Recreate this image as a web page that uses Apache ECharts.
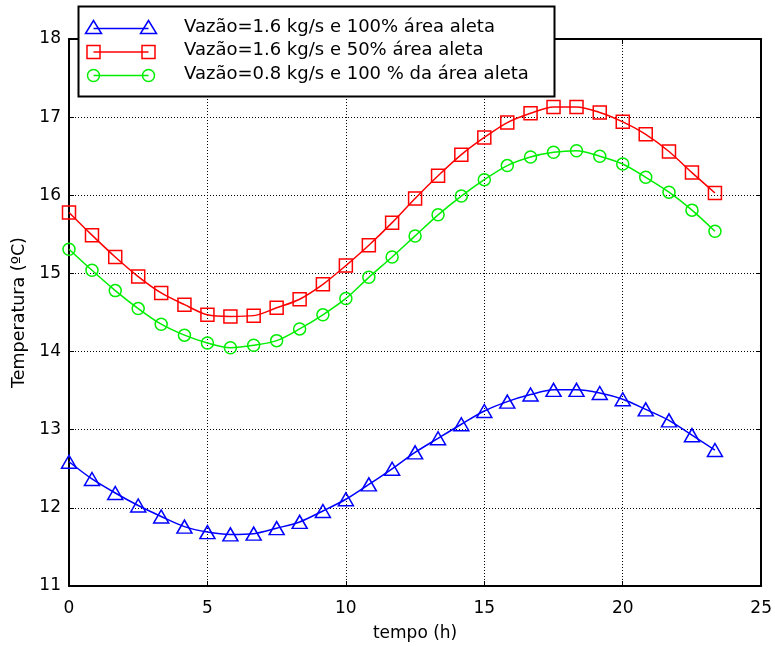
<!DOCTYPE html>
<html>
<head>
<meta charset="utf-8">
<script src="https://cdn.jsdelivr.net/npm/echarts@6/dist/echarts.min.js"></script>
<style>
html,body{margin:0;padding:0;background:#fff;}
#chart{width:775px;height:647px;}
</style>
</head>
<body>
<div id="chart"></div>
<script>
const tempo = [0, 0.83, 1.67, 2.5, 3.33, 4.17, 5, 5.83, 6.67, 7.5, 8.33, 9.17, 10, 10.83, 11.67, 12.5, 13.33, 14.17, 15, 15.83, 16.67, 17.5, 18.33, 19.17, 20, 20.83, 21.67, 22.5, 23.33];
const serieA = [12.59, 12.37, 12.19, 12.03, 11.89, 11.76, 11.69, 11.66, 11.67, 11.74, 11.82, 11.96, 12.11, 12.30, 12.50, 12.71, 12.89, 13.07, 13.24, 13.36, 13.45, 13.51, 13.51, 13.47, 13.39, 13.26, 13.12, 12.93, 12.74];
const serieB = [15.78, 15.49, 15.21, 14.96, 14.75, 14.60, 14.47, 14.45, 14.46, 14.56, 14.67, 14.86, 15.10, 15.36, 15.65, 15.96, 16.25, 16.52, 16.74, 16.93, 17.05, 17.13, 17.13, 17.06, 16.94, 16.78, 16.56, 16.29, 16.03];
const serieC = [15.31, 15.04, 14.78, 14.55, 14.35, 14.21, 14.11, 14.05, 14.08, 14.14, 14.29, 14.47, 14.68, 14.95, 15.21, 15.48, 15.75, 15.99, 16.20, 16.38, 16.49, 16.55, 16.57, 16.50, 16.40, 16.23, 16.04, 15.81, 15.54];
const nomes = ['Vazão=1.6 kg/s e 100% área aleta', 'Vazão=1.6 kg/s e 50% área aleta', 'Vazão=0.8 kg/s e 100 % da área aleta'];
const cores = ['#0000ff', '#ff0000', '#00ee00'];
const simbolos = ['triangle', 'rect', 'circle'];
const tamanhos = [[15, 13], 13, 12];

const FONT = '"DejaVu Sans", Verdana, sans-serif';
const chart = echarts.init(document.getElementById('chart'), null, {renderer: 'canvas'});

function pairs(ys) { return tempo.map((t, i) => [t, ys[i]]); }
const valores = [serieA, serieB, serieC];

const series = valores.map((ys, k) => ({
  name: nomes[k],
  type: 'line',
  data: pairs(ys),
  smooth: 0.3,
  symbol: simbolos[k],
  symbolSize: tamanhos[k],
  showAllSymbol: true,
  lineStyle: {color: cores[k], width: 1.5},
  itemStyle: {color: 'rgba(255,255,255,0)', borderColor: cores[k], borderWidth: 1.5},
  emphasis: {disabled: true},
  z: 2
}));

// legend icons (line with marker at both ends)
const rowY = [28.5, 52, 75.5];
const iconGraphics = [];
rowY.forEach((cy, k) => {
  iconGraphics.push({type: 'line', z: 10, shape: {x1: 93.5, y1: cy, x2: 148.5, y2: cy}, style: {stroke: cores[k], lineWidth: 1.5}});
  [93.5, 148.5].forEach(cx => {
    if (k === 0) {
      iconGraphics.push({type: 'polygon', z: 10, shape: {points: [[cx, cy - 8], [cx - 8, cy + 5], [cx + 8, cy + 5]]}, style: {fill: 'none', stroke: cores[k], lineWidth: 1.5}});
    } else if (k === 1) {
      iconGraphics.push({type: 'rect', z: 10, shape: {x: cx - 6.5, y: cy - 6.5, width: 13, height: 13}, style: {fill: 'none', stroke: cores[k], lineWidth: 1.5}});
    } else {
      iconGraphics.push({type: 'circle', z: 10, shape: {cx: cx, cy: cy, r: 6}, style: {fill: 'none', stroke: cores[k], lineWidth: 1.5}});
    }
  });
});

const axisCommon = {
  type: 'value',
  axisLine: {show: true, onZero: false, lineStyle: {color: '#000', width: 2}},
  axisTick: {show: true, inside: true, length: 5, lineStyle: {color: '#000', width: 1}},
  splitLine: {show: false}
};

chart.setOption({
  animation: false,
  backgroundColor: '#fff',
  grid: {left: 69, right: 12, top: 39, bottom: 61, containLabel: false},
  xAxis: [
    Object.assign({}, axisCommon, {
      position: 'bottom', min: 0, max: 25, interval: 5,
      name: 'tempo (h)', nameLocation: 'middle', nameGap: 39,
      nameTextStyle: {fontFamily: FONT, fontSize: 17, color: '#000'},
      axisLabel: {show: true, margin: 14, fontFamily: FONT, fontSize: 17, color: '#000'},
      splitLine: {show: true, lineStyle: {color: '#000', width: 1, type: [1, 2]}}
    }),
    Object.assign({}, axisCommon, {position: 'top', min: 0, max: 25, interval: 5, axisLabel: {show: false}})
  ],
  yAxis: [
    Object.assign({}, axisCommon, {
      position: 'left', min: 11, max: 18, interval: 1,
      name: 'Temperatura (ºC)', nameLocation: 'middle', nameGap: 34,
      nameTextStyle: {fontFamily: FONT, fontSize: 17.5, color: '#000'},
      axisLabel: {show: true, margin: 8, fontFamily: FONT, fontSize: 17, color: '#000'},
      splitLine: {show: true, lineStyle: {color: '#000', width: 1, type: [1, 2]}}
    }),
    Object.assign({}, axisCommon, {position: 'right', min: 11, max: 18, interval: 1, axisLabel: {show: false}})
  ],
  legend: {
    show: true,
    orient: 'vertical',
    left: 78, top: 6,
    padding: [12, 0, 0, 7],
    itemWidth: 93, itemHeight: 14, itemGap: 5.5,
    z: 8,
    selectedMode: false,
    data: nomes,
    itemStyle: {opacity: 0},
    lineStyle: {opacity: 0},
    textStyle: {fontFamily: FONT, fontSize: 18, color: '#000'}
  },
  graphic: [
    {type: 'rect', z: 6, shape: {x: 78.5, y: 6.5, width: 476, height: 90}, style: {fill: '#fff', stroke: '#000', lineWidth: 2}}
  ].concat(iconGraphics),
  series: series
});
</script>
</body>
</html>
